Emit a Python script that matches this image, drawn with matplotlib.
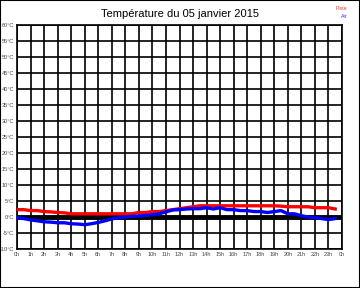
import numpy as np
import matplotlib
matplotlib.use('Agg')
import matplotlib.pyplot as plt
from matplotlib.patches import Rectangle

plt.rcParams['font.family'] = ['Liberation Sans', 'DejaVu Sans']

# half-hourly readings (°C), 0h .. 23h30
hours = np.arange(0, 24.0, 0.5)
piste = [2.3, 2.3, 2.0, 2.0, 1.7, 1.6, 1.4, 1.3, 1.0, 1.0,
         1.0, 1.0, 1.0, 1.0, 1.0, 1.0, 1.0, 1.0, 1.4, 1.4,
         1.7, 1.7, 2.0, 2.3, 2.6, 2.9, 3.2, 3.5, 3.5, 3.5,
         3.5, 3.5, 3.5, 3.5, 3.5, 3.5, 3.5, 3.5, 3.5, 3.4,
         3.2, 3.2, 3.2, 3.2, 2.9, 2.9, 2.9, 2.5]
air = [-0.2, -0.5, -0.9, -1.2, -1.5, -1.6, -1.8, -1.8, -2.1, -2.2,
       -2.4, -2.1, -1.7, -1.2, -0.6, -0.2, 0.0, 0.2, 0.3, 0.5,
       0.7, 1.0, 1.6, 2.2, 2.3, 2.5, 2.6, 2.6, 2.9, 2.5,
       2.9, 2.3, 2.3, 2.0, 2.0, 1.7, 1.7, 1.4, 1.7, 2.0,
       1.0, 1.0, 0.4, 0.0, -0.2, -0.5, -0.8, -0.5]

yticks = np.arange(-10, 61, 5)
xticks = np.arange(0, 25)
xlabels = [f'{h % 24}h' for h in xticks]

fig = plt.figure(figsize=(3.6, 2.88), dpi=100)
ax = fig.add_axes([17/360, 39/288, 325/360, 224/288])

ax.set_xlim(0, 24)
ax.set_ylim(-10, 60)
ax.set_xticks(xticks)
ax.set_xticklabels(xlabels)
ax.set_yticks(yticks)
ax.set_yticklabels([f'{v}°C' for v in yticks])
ax.tick_params(length=0, labelsize=4.0, labelcolor='#444444', pad=2)
ax.grid(True, color='black', lw=1.2)
ax.set_axisbelow(True)
for s in ax.spines.values():
    s.set_linewidth(1.2)

ax.axhline(0, color='black', lw=3.5, zorder=2)
ax.plot(hours, piste, color='#ff0000', lw=2.4, zorder=3)
ax.plot(hours, air, color='#0000ff', lw=2.4, zorder=4)

fig.text(0.5, 1 - 14/288, 'Température du 05 janvier 2015',
         ha='center', va='center', fontsize=8)
fig.text(347/360, 1 - 8/288, 'Piste', color='#ff3333', fontsize=3.8,
         ha='right', va='center')
fig.text(347/360, 1 - 16/288, 'Air', color='#3333ff', fontsize=3.8,
         ha='right', va='center')

fig.patches.append(Rectangle((0, 0), 1, 1, transform=fig.transFigure,
                             fill=False, edgecolor='black', lw=1.5))

fig.savefig('out.png', dpi=100)
